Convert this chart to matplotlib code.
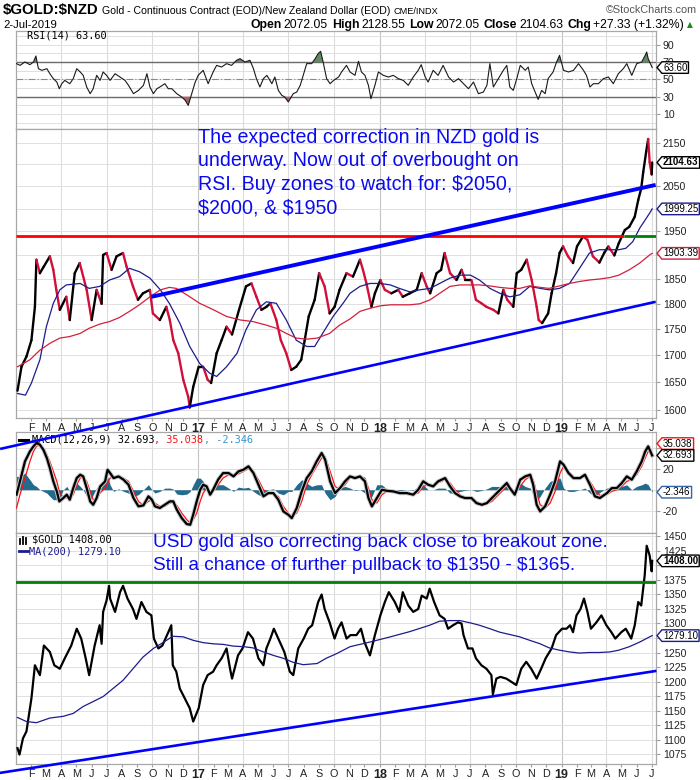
import numpy as np
import pandas as pd
import matplotlib
matplotlib.use("Agg")
import matplotlib.pyplot as plt
import matplotlib.dates as mdates
import matplotlib.patheffects as pe
import matplotlib.transforms as mtransforms
from matplotlib.collections import LineCollection
from matplotlib.lines import Line2D
from matplotlib.path import Path
from matplotlib.ticker import FixedLocator, FixedFormatter, NullLocator
from matplotlib import font_manager as fm

plt.rcParams["text.parse_math"] = False

# ----------------------------------------------------------------- data
# $GOLD:$NZD closes
nzd_dates = [
    "2016-01-04", "2016-01-12", "2016-01-22", "2016-02-01", "2016-02-08", "2016-02-11", "2016-02-18", "2016-02-26", "2016-03-09", "2016-03-16",
    "2016-03-22", "2016-03-29", "2016-04-11", "2016-04-18", "2016-04-28", "2016-05-08", "2016-05-22", "2016-06-01", "2016-06-11", "2016-06-21",
    "2016-06-24", "2016-07-01", "2016-07-11", "2016-07-21", "2016-08-03", "2016-08-10", "2016-08-23", "2016-09-02", "2016-09-12", "2016-09-26",
    "2016-10-02", "2016-10-16", "2016-10-29", "2016-11-05", "2016-11-12", "2016-11-22", "2016-12-02", "2016-12-12", "2016-12-15", "2016-12-22",
    "2017-01-02", "2017-01-11", "2017-01-20", "2017-01-27", "2017-02-07", "2017-02-17", "2017-02-27", "2017-03-10", "2017-03-24", "2017-04-07",
    "2017-04-18", "2017-04-28", "2017-05-08", "2017-05-18", "2017-05-26", "2017-06-07", "2017-06-16", "2017-06-27", "2017-07-07", "2017-07-17",
    "2017-07-27", "2017-08-03", "2017-08-11", "2017-08-23", "2017-09-01", "2017-09-12", "2017-09-22", "2017-10-02", "2017-10-12", "2017-10-26",
    "2017-11-08", "2017-11-22", "2017-11-28", "2017-12-05", "2017-12-15", "2017-12-22", "2018-01-02", "2018-01-11", "2018-01-24", "2018-02-07",
    "2018-02-16", "2018-03-02", "2018-03-16", "2018-03-26", "2018-04-05", "2018-04-12", "2018-04-25", "2018-05-04", "2018-05-11", "2018-05-22",
    "2018-06-04", "2018-06-14", "2018-06-22", "2018-07-04", "2018-07-13", "2018-07-24", "2018-08-03", "2018-08-17", "2018-08-27", "2018-09-06",
    "2018-09-14", "2018-09-26", "2018-10-03", "2018-10-12", "2018-10-23", "2018-11-02", "2018-11-12", "2018-11-16", "2018-11-23", "2018-12-05",
    "2018-12-12", "2018-12-21", "2018-12-28", "2019-01-04", "2019-01-14", "2019-01-24", "2019-02-01", "2019-02-13", "2019-02-22", "2019-03-05",
    "2019-03-18", "2019-03-28", "2019-04-05", "2019-04-17", "2019-04-26", "2019-05-08", "2019-05-17", "2019-05-28", "2019-06-04", "2019-06-10",
    "2019-06-14", "2019-06-20", "2019-06-24", "2019-06-27", "2019-07-01", "2019-07-02"]
nzd_close = [
    1635, 1679, 1698, 1729, 1794, 1890, 1862, 1876, 1897, 1869,
    1828, 1788, 1814, 1768, 1862, 1883, 1828, 1768, 1828, 1800,
    1900, 1904, 1869, 1897, 1904, 1876, 1835, 1808, 1821, 1828,
    1781, 1768, 1794, 1768, 1729, 1704, 1655, 1624, 1605, 1642,
    1679, 1679, 1655, 1649, 1704, 1729, 1755, 1740, 1788, 1835,
    1841, 1814, 1788, 1794, 1801, 1768, 1729, 1704, 1673, 1679,
    1692, 1729, 1775, 1808, 1862, 1835, 1781, 1794, 1828, 1862,
    1855, 1890, 1869, 1841, 1794, 1821, 1848, 1828, 1821, 1828,
    1814, 1821, 1828, 1862, 1835, 1821, 1862, 1869, 1904, 1862,
    1848, 1869, 1848, 1848, 1808, 1801, 1794, 1788, 1781, 1828,
    1808, 1794, 1862, 1869, 1890, 1848, 1794, 1768, 1762, 1781,
    1821, 1862, 1904, 1918, 1897, 1883, 1918, 1939, 1932, 1897,
    1884, 1905, 1918, 1899, 1925, 1953, 1960, 1982, 2019, 2045,
    2082, 2130, 2160, 2105, 2077, 2104.63]

nzd_ma50_dates = [
    "2016-01-04", "2016-01-20", "2016-02-01", "2016-02-18", "2016-03-02", "2016-03-16", "2016-03-29", "2016-04-11", "2016-05-09", "2016-05-27",
    "2016-06-17", "2016-07-07", "2016-07-27", "2016-08-16", "2016-09-05", "2016-09-26", "2016-10-17", "2016-11-04", "2016-11-25", "2016-12-15",
    "2017-01-04", "2017-01-24", "2017-02-07", "2017-02-27", "2017-03-20", "2017-04-07", "2017-04-28", "2017-05-18", "2017-06-07", "2017-06-27",
    "2017-07-17", "2017-08-07", "2017-08-23", "2017-09-08", "2017-09-29", "2017-10-19", "2017-11-02", "2017-11-22", "2017-12-12", "2018-01-02",
    "2018-01-22", "2018-02-09", "2018-03-02", "2018-03-22", "2018-04-12", "2018-05-01", "2018-05-22", "2018-06-11", "2018-07-02", "2018-07-20",
    "2018-08-10", "2018-08-30", "2018-09-19", "2018-10-09", "2018-10-29", "2018-11-19", "2018-12-07", "2018-12-28", "2019-01-17", "2019-02-06",
    "2019-02-26", "2019-03-18", "2019-04-08", "2019-04-26", "2019-05-10", "2019-05-24", "2019-06-07", "2019-06-27", "2019-07-02"]
nzd_ma50 = [
    1630, 1627, 1649, 1692, 1755, 1801, 1828, 1838, 1841, 1831,
    1835, 1848, 1855, 1872, 1865, 1852, 1828, 1801, 1762, 1717,
    1685, 1667, 1661, 1679, 1704, 1749, 1788, 1804, 1801, 1768,
    1729, 1717, 1717, 1742, 1775, 1801, 1821, 1835, 1841, 1841,
    1838, 1831, 1824, 1828, 1831, 1841, 1852, 1858, 1858, 1848,
    1831, 1821, 1814, 1818, 1835, 1831, 1828, 1831, 1841, 1872,
    1904, 1911, 1911, 1911, 1914, 1928, 1957, 1990, 1999.25]

nzd_ma200_dates = [
    "2016-01-04", "2016-01-29", "2016-02-18", "2016-03-09", "2016-03-29", "2016-04-18", "2016-05-09", "2016-05-27", "2016-06-17", "2016-07-07",
    "2016-07-27", "2016-08-16", "2016-09-05", "2016-09-26", "2016-10-17", "2016-11-04", "2016-11-18", "2016-12-09", "2017-01-04", "2017-02-01",
    "2017-02-27", "2017-03-27", "2017-04-21", "2017-05-18", "2017-06-07", "2017-06-27", "2017-07-17", "2017-08-07", "2017-08-28", "2017-09-22",
    "2017-10-12", "2017-11-02", "2017-11-22", "2017-12-12", "2018-01-02", "2018-01-22", "2018-02-09", "2018-03-02", "2018-03-22", "2018-04-12",
    "2018-05-01", "2018-05-22", "2018-06-11", "2018-07-02", "2018-07-20", "2018-08-10", "2018-08-30", "2018-09-19", "2018-10-09", "2018-10-29",
    "2018-11-19", "2018-12-07", "2018-12-28", "2019-01-17", "2019-02-06", "2019-02-26", "2019-03-18", "2019-04-08", "2019-04-26", "2019-05-17",
    "2019-06-07", "2019-06-27", "2019-07-02"]
nzd_ma200 = [
    1679, 1692, 1710, 1723, 1733, 1736, 1742, 1752, 1760, 1765,
    1773, 1785, 1798, 1814, 1828, 1833, 1831, 1818, 1801, 1788,
    1775, 1768, 1765, 1758, 1752, 1742, 1733, 1731, 1733, 1742,
    1758, 1770, 1785, 1791, 1796, 1798, 1798, 1798, 1800, 1808,
    1821, 1835, 1838, 1838, 1838, 1836, 1833, 1831, 1831, 1836,
    1833, 1831, 1836, 1841, 1845, 1848, 1850, 1853, 1858, 1869,
    1883, 1900, 1903.39]

# RSI(14) -- x as days since 2016-01-01
rsi_day = [
    1, 8, 18, 28, 35, 40, 45, 52, 62, 68,
    75, 82, 87, 92, 98, 108, 115, 122, 129, 135,
    142, 149, 155, 162, 169, 175, 182, 189, 199, 209,
    219, 226, 236, 246, 256, 263, 269, 276, 283, 289,
    299, 306, 313, 323, 333, 340, 346, 353, 360, 366,
    376, 386, 396, 403, 413, 423, 433, 443, 450, 460,
    470, 477, 483, 490, 497, 504, 514, 520, 527, 534,
    540, 547, 557, 564, 571, 577, 584, 594, 601, 607,
    612, 617, 624, 631, 638, 648, 654, 664, 671, 681,
    688, 694, 701, 708, 713, 721, 728, 738, 748, 758,
    768, 778, 788, 798, 808, 814, 822, 828, 838, 848,
    858, 869, 879, 889, 899, 909, 919, 929, 939, 946,
    952, 959, 969, 979, 986, 992, 999, 1006, 1013, 1023,
    1029, 1036, 1043, 1049, 1056, 1063, 1069, 1079, 1086, 1092,
    1100, 1110, 1120, 1130, 1140, 1146, 1153, 1160, 1170, 1180,
    1190, 1200, 1210, 1220, 1227, 1237, 1247, 1257, 1264, 1267,
    1270, 1278]
rsi_val = [
    68.1, 66.1, 70.0, 66.9, 70.0, 76.9, 62.3, 60.4, 62.3, 56.5,
    50.8, 46.9, 39.2, 45.0, 48.8, 45.0, 50.8, 62.3, 58.5, 54.6,
    41.2, 33.5, 39.2, 54.6, 48.8, 58.5, 54.6, 48.8, 56.5, 52.7,
    48.8, 43.1, 33.5, 37.3, 43.1, 56.5, 41.2, 33.5, 39.2, 41.2,
    45.0, 39.2, 39.2, 33.5, 29.6, 25.8, 20.0, 33.5, 46.9, 54.6,
    60.4, 45.0, 58.5, 66.1, 64.2, 68.1, 66.1, 71.9, 73.8, 70.0,
    71.9, 62.3, 50.8, 41.2, 50.8, 54.6, 45.0, 52.7, 37.3, 31.6,
    29.6, 23.9, 33.5, 35.4, 43.1, 54.6, 68.1, 68.1, 73.8, 79.6,
    82.3, 70.0, 50.8, 45.0, 48.8, 52.7, 58.5, 66.1, 58.5, 54.6,
    70.8, 58.5, 54.6, 43.1, 27.7, 43.1, 58.5, 54.6, 52.7, 54.6,
    50.8, 48.8, 43.1, 52.7, 60.4, 66.9, 52.7, 46.9, 60.4, 54.6,
    66.1, 52.7, 46.9, 50.8, 45.0, 39.2, 46.9, 33.5, 35.4, 43.1,
    68.1, 41.2, 50.8, 60.4, 66.1, 41.2, 37.3, 50.8, 66.1, 60.4,
    64.2, 45.0, 35.4, 26.9, 37.3, 33.5, 50.8, 58.5, 70.0, 77.7,
    60.4, 58.5, 60.4, 68.1, 60.4, 54.6, 41.2, 45.0, 45.0, 50.8,
    52.7, 45.0, 56.5, 62.3, 68.1, 54.6, 68.1, 70.0, 77.7, 81.5,
    73.8, 63.6]

# MACD(12,26,9) -- x as days since 2016-01-01
macd_day = [
    1, 8, 18, 28, 35, 41, 48, 55, 62, 68,
    75, 82, 87, 95, 102, 108, 115, 122, 129, 135,
    142, 149, 155, 162, 169, 179, 184, 189, 196, 206,
    216, 226, 236, 246, 256, 266, 273, 279, 289, 299,
    309, 316, 323, 333, 343, 350, 356, 363, 370, 376,
    383, 390, 396, 406, 416, 427, 437, 447, 457, 467,
    477, 487, 497, 507, 517, 527, 537, 547, 554, 564,
    574, 584, 594, 604, 614, 621, 631, 641, 651, 661,
    671, 681, 691, 701, 708, 715, 725, 735, 745, 758,
    771, 785, 798, 808, 818, 828, 838, 848, 862, 872,
    882, 892, 902, 915, 925, 936, 946, 956, 966, 976,
    986, 992, 1002, 1013, 1023, 1033, 1039, 1046, 1053, 1063,
    1073, 1083, 1093, 1100, 1110, 1120, 1133, 1143, 1153, 1163,
    1173, 1187, 1197, 1207, 1217, 1227, 1237, 1247, 1257, 1264,
    1270, 1278]
macd_line = [
    -4.7, 8.0, 27.0, 36.5, 41.3, 44.5, 42.9, 38.1, 30.2, 20.7,
    8.0, -1.6, -11.1, -7.9, -4.7, -9.5, 1.6, 11.1, 14.3, 12.7,
    1.6, -11.1, -14.3, -7.9, 3.0, 8.0, 19.0, 15.9, 11.1, 12.7,
    9.6, 4.8, -7.9, -15.8, -14.9, -6.3, -9.5, -15.8, -17.4, -14.3,
    -11.1, -11.1, -19.0, -27.0, -32.7, -33.3, -23.8, -11.1, 0.0, 4.8,
    3.2, -4.7, 0.0, 9.6, 15.9, 15.9, 12.7, 17.5, 19.1, 22.3,
    15.9, 4.8, -6.3, -3.2, -3.2, -9.5, -20.6, -23.8, -27.0, -17.4,
    -1.6, 11.1, 17.5, 27.0, 35.0, 28.6, 8.0, -3.2, 1.6, 8.0,
    12.7, 11.1, 12.7, 8.0, -7.9, -15.8, -7.9, 0.0, -1.0, -1.6,
    -3.2, -3.2, -4.7, 0.0, 8.0, 4.8, 3.2, 8.0, 11.1, 3.2,
    -3.2, -6.3, -7.9, -7.9, -12.7, -14.3, -12.7, -7.9, -3.2, 1.6,
    6.4, 1.6, -4.7, 9.6, 12.7, 14.3, 4.8, -14.3, -20.6, -15.8,
    -4.7, 8.0, 27.0, 23.8, 15.9, 11.1, 11.1, 14.3, 4.8, -6.3,
    -7.9, -3.2, 1.6, 1.6, 6.4, 12.7, 9.6, 17.5, 27.0, 36.5,
    41.3, 32.693]
macd_signal = [
    -17.4, -4.7, 11.1, 27.0, 36.5, 41.3, 42.9, 39.7, 33.4, 27.0,
    17.5, 8.0, -1.6, -7.9, -7.9, -7.9, -4.7, 4.8, 11.1, 12.7,
    8.0, -1.6, -9.5, -9.5, -3.0, 1.6, 6.4, 11.1, 12.7, 11.8,
    11.1, 8.0, -1.6, -11.1, -14.9, -11.1, -9.5, -12.7, -15.8, -15.8,
    -12.7, -11.7, -14.9, -22.2, -28.5, -31.7, -28.5, -22.2, -11.1, -3.2,
    1.6, -1.6, -1.6, 4.8, 11.1, 14.3, 14.3, 15.0, 17.5, 20.0,
    17.5, 9.6, 0.0, -3.2, -4.1, -6.3, -15.8, -22.2, -25.4, -22.2,
    -11.1, 4.8, 14.3, 22.3, 30.2, 31.8, 17.5, 3.2, 0.0, 4.8,
    11.1, 11.8, 12.7, 11.1, 1.6, -9.5, -12.7, -4.7, -1.6, -1.6,
    -2.2, -3.2, -4.1, -3.2, 3.2, 4.8, 3.2, 6.4, 9.6, 6.4,
    0.0, -4.7, -7.3, -7.9, -11.1, -13.6, -13.6, -11.1, -6.3, -1.6,
    3.2, 2.2, -2.2, 3.2, 9.6, 12.7, 9.6, -3.2, -14.3, -17.5,
    -12.7, -1.6, 15.9, 22.3, 17.5, 12.7, 11.1, 12.7, 8.0, 0.0,
    -5.4, -4.7, -1.6, 0.0, 3.2, 8.0, 9.6, 14.3, 22.3, 30.2,
    36.5, 35.038]

# $GOLD (USD) closes
usd_dates = [
    "2016-01-04", "2016-01-08", "2016-01-15", "2016-01-22", "2016-02-01", "2016-02-08", "2016-02-18", "2016-02-26", "2016-03-09", "2016-03-18",
    "2016-03-29", "2016-04-08", "2016-04-21", "2016-05-02", "2016-05-11", "2016-05-20", "2016-05-27", "2016-06-07", "2016-06-17", "2016-06-21",
    "2016-06-24", "2016-07-01", "2016-07-06", "2016-07-08", "2016-07-18", "2016-07-28", "2016-08-03", "2016-08-12", "2016-08-23", "2016-08-30",
    "2016-09-09", "2016-09-19", "2016-09-29", "2016-10-04", "2016-10-13", "2016-10-21", "2016-11-02", "2016-11-08", "2016-11-11", "2016-11-18",
    "2016-11-25", "2016-12-05", "2016-12-15", "2016-12-22", "2017-01-02", "2017-01-11", "2017-01-20", "2017-01-31", "2017-02-07", "2017-02-17",
    "2017-02-27", "2017-03-06", "2017-03-10", "2017-03-22", "2017-03-31", "2017-04-11", "2017-04-21", "2017-05-02", "2017-05-12", "2017-05-18",
    "2017-05-26", "2017-06-02", "2017-06-14", "2017-06-23", "2017-07-04", "2017-07-11", "2017-07-21", "2017-08-01", "2017-08-10", "2017-08-18",
    "2017-08-30", "2017-09-06", "2017-09-12", "2017-09-22", "2017-10-02", "2017-10-09", "2017-10-16", "2017-10-26", "2017-11-03", "2017-11-15",
    "2017-11-24", "2017-12-01", "2017-12-12", "2017-12-22", "2018-01-02", "2018-01-11", "2018-01-19", "2018-01-31", "2018-02-09", "2018-02-16",
    "2018-02-27", "2018-03-09", "2018-03-19", "2018-03-26", "2018-04-05", "2018-04-11", "2018-04-20", "2018-05-01", "2018-05-11", "2018-05-18",
    "2018-05-28", "2018-06-07", "2018-06-14", "2018-06-18", "2018-06-27", "2018-07-06", "2018-07-13", "2018-07-24", "2018-08-03", "2018-08-13",
    "2018-08-16", "2018-08-23", "2018-08-31", "2018-09-12", "2018-09-21", "2018-10-02", "2018-10-12", "2018-10-22", "2018-11-01", "2018-11-12",
    "2018-11-21", "2018-11-30", "2018-12-12", "2018-12-21", "2019-01-02", "2019-01-11", "2019-01-18", "2019-01-24", "2019-01-31", "2019-02-08",
    "2019-02-15", "2019-02-22", "2019-03-01", "2019-03-12", "2019-03-22", "2019-04-01", "2019-04-11", "2019-04-19", "2019-05-01", "2019-05-10",
    "2019-05-21", "2019-05-28", "2019-06-04", "2019-06-10", "2019-06-17", "2019-06-21", "2019-06-27", "2019-07-01", "2019-07-02"]
usd_close = [
    1085, 1074, 1102, 1114, 1171, 1228, 1211, 1262, 1251, 1228,
    1222, 1240, 1262, 1291, 1274, 1240, 1211, 1262, 1297, 1265,
    1320, 1340, 1365, 1343, 1320, 1354, 1365, 1343, 1325, 1308,
    1337, 1320, 1314, 1274, 1257, 1262, 1285, 1297, 1228, 1217,
    1188, 1171, 1154, 1131, 1154, 1194, 1211, 1217, 1228, 1240,
    1257, 1222, 1205, 1245, 1257, 1285, 1274, 1240, 1228, 1257,
    1274, 1291, 1268, 1251, 1217, 1211, 1257, 1274, 1291, 1297,
    1337, 1350, 1325, 1302, 1274, 1291, 1302, 1274, 1280, 1280,
    1291, 1268, 1245, 1280, 1314, 1337, 1354, 1337, 1320, 1354,
    1331, 1320, 1325, 1348, 1343, 1360, 1337, 1314, 1308, 1291,
    1297, 1302, 1300, 1280, 1257, 1257, 1240, 1228, 1222, 1211,
    1178, 1205, 1208, 1205, 1200, 1194, 1222, 1234, 1222, 1205,
    1222, 1240, 1257, 1280, 1291, 1291, 1297, 1285, 1314, 1325,
    1343, 1320, 1291, 1302, 1314, 1297, 1285, 1274, 1285, 1291,
    1274, 1297, 1337, 1331, 1383, 1434, 1417, 1390, 1408]

usd_ma200_dates = [
    "2016-01-04", "2016-01-22", "2016-02-11", "2016-03-09", "2016-04-05", "2016-04-25", "2016-05-15", "2016-06-03", "2016-06-24", "2016-07-14",
    "2016-08-03", "2016-08-23", "2016-09-12", "2016-10-03", "2016-10-24", "2016-11-11", "2016-12-02", "2016-12-22", "2017-01-11", "2017-01-31",
    "2017-02-20", "2017-03-13", "2017-04-03", "2017-04-21", "2017-05-12", "2017-06-01", "2017-06-21", "2017-07-11", "2017-07-31", "2017-08-28",
    "2017-09-15", "2017-10-06", "2017-11-02", "2017-12-12", "2018-01-22", "2018-03-02", "2018-04-11", "2018-05-01", "2018-05-21", "2018-06-11",
    "2018-07-02", "2018-07-20", "2018-08-10", "2018-08-30", "2018-09-19", "2018-10-09", "2018-10-29", "2018-11-19", "2018-12-07", "2018-12-28",
    "2019-01-17", "2019-02-06", "2019-02-26", "2019-03-18", "2019-04-08", "2019-04-26", "2019-05-17", "2019-06-07", "2019-06-27", "2019-07-02"]
usd_ma200 = [
    1138, 1131, 1129, 1137, 1140, 1145, 1157, 1165, 1174, 1188,
    1202, 1222, 1242, 1257, 1268, 1278, 1277, 1271, 1267, 1265,
    1264, 1261, 1260, 1258, 1251, 1245, 1240, 1233, 1229, 1231,
    1240, 1248, 1260, 1268, 1277, 1286, 1297, 1304, 1305, 1305,
    1301, 1297, 1291, 1285, 1281, 1277, 1271, 1265, 1258, 1254,
    1251, 1249, 1250, 1250, 1251, 1254, 1260, 1268, 1277, 1279.10]

# hand-drawn annotation lines (date, price)
nzd_upper_trend_dates = ["2016-09-29", "2019-07-09"]
nzd_upper_trend_vals = [1814, 2053]
nzd_lower_trend_dates = ["2015-11-30", "2019-07-09"]
nzd_lower_trend_vals = [1533, 1804]
nzd_red_level = 1940
nzd_red_dates = ["2016-01-01", "2019-05-06"]
nzd_green_dates = ["2019-05-06", "2019-07-09"]
usd_trend_dates = ["2015-11-30", "2019-07-08"]
usd_trend_vals = [1042.5, 1218]
usd_green_level = 1371

nzd_ticks = [1600, 1650, 1700, 1750, 1800, 1850, 1900, 1950, 2000, 2050, 2100, 2150]
nzd_tick_labels = ["1600", "1650", "1700", "1750", "1800", "1850", "", "1950", "", "2050", "", "2150"]
usd_ticks = [1075, 1100, 1125, 1150, 1175, 1200, 1225, 1250, 1275, 1300, 1325, 1350, 1375, 1400, 1425, 1450]
usd_tick_labels = ["1075", "1100", "1125", "1150", "1175", "1200", "1225", "1250", "", "1300", "1325", "1350", "1375", "", "1425", "1450"]
rsi_ticks = [10, 30, 50, 70, 90]
macd_ticks = [-20, 0, 20, 40]
macd_tick_labels = ["-20", "", "20", "40"]

# ----------------------------------------------------------------- setup
W, H = 700, 780
fig = plt.figure(figsize=(W / 100, H / 100), dpi=100)
fig.patch.set_facecolor("white")

avail = {f.name for f in fm.fontManager.ttflist}
NARROW = "Liberation Sans Narrow" if "Liberation Sans Narrow" in avail else "Liberation Sans"
SANS = "Liberation Sans"
MONO = "DejaVu Sans Mono"

BASE = pd.Timestamp("2016-01-01")


def to_x(dates):
    return mdates.date2num(pd.to_datetime(dates))


def days_to_x(days):
    return mdates.date2num(BASE + pd.to_timedelta(np.asarray(days, float), unit="D"))


X_LEFT = mdates.date2num(BASE)
X_RIGHT = mdates.date2num(BASE + pd.Timedelta(days=1285.7))

month_ticks = pd.date_range("2016-02-01", "2019-07-01", freq="MS")
month_labels = [("%02d" % (d.year % 100)) if d.month == 1 else "JFMAMJJASOND"[d.month - 1] for d in month_ticks]
quarter_lines = pd.date_range("2016-04-01", "2019-07-01", freq="QS")

L, R = 16, 656


def px_axes(top, bottom, z=1):
    ax = fig.add_axes([L / W, 1 - bottom / H, (R - L) / W, (bottom - top) / H])
    ax.set_zorder(z)
    ax.set_facecolor("white")
    return ax


def style(ax, xlabels=False):
    ax.set_xlim(X_LEFT, X_RIGHT)
    for sp in ax.spines.values():
        sp.set_color("#a8a8a8")
        sp.set_linewidth(0.9)
    for d in quarter_lines:
        ax.axvline(mdates.date2num(d), color="#c4c4c4" if d.month == 1 else "#dcdcdc", lw=0.8, zorder=0)
    ax.yaxis.tick_right()
    ax.tick_params(axis="y", which="both", length=3, color="#a0a0a0", labelsize=7.6, pad=2,
                   labelcolor="#222222")
    ax.set_xticks(mdates.date2num(month_ticks))
    ax.tick_params(axis="x", length=2, color="#a0a0a0", pad=1.5, labelsize=7.8)
    if xlabels:
        ax.set_xticklabels(month_labels)
        for lbl, d in zip(ax.get_xticklabels(), month_ticks):
            lbl.set_family(SANS)
            lbl.set_color("#222222")
            if d.month == 1:
                lbl.set_fontweight("bold")
                lbl.set_fontsize(9)
    else:
        ax.set_xticklabels([])
    ax.grid(axis="y", color="#e0e0e0", lw=0.7)
    ax.set_axisbelow(True)


def tag_box(x0, y0, width, height, mutation_size):
    p = 0.16 * mutation_size
    x0 -= p * 0.7
    x1 = x0 + width + p * 1.4
    y0 -= p * 0.5
    y1 = y0 + height + p * 1.0
    tip = (y1 - y0) * 0.42
    ym = (y0 + y1) / 2
    return Path([(x0, y0), (x1, y0), (x1, y1), (x0, y1), (x0 - tip, ym), (x0, y0)], closed=True)


def tag(ax, y, s, ec, bold=False, fc="white", z=30):
    trans = mtransforms.blended_transform_factory(ax.transAxes, ax.transData)
    ax.text(1 + 7 / (R - L), y, s, transform=trans, ha="left", va="center", fontsize=7.0,
            family=SANS, fontweight="bold" if bold else "normal", color="black",
            bbox=dict(boxstyle=tag_box, fc=fc, ec=ec, lw=1.0), zorder=z, clip_on=False)


def text_run(x, y, pieces, align="left"):
    r = fig.canvas.get_renderer()
    arts = []
    cur = x
    for s, kw, gap in pieces:
        t = fig.text(cur / W, 1 - y / H, s, ha="left", va="baseline", **kw)
        w = t.get_window_extent(renderer=r).width
        arts.append((t, cur))
        cur += w + gap
    if align == "right":
        shift = cur - x
        for t, c in arts:
            t.set_x((c - shift) / W)


def fig_line(x1, x2, y, color, lw=2.0):
    fig.add_artist(Line2D([x1 / W, x2 / W], [1 - y / H, 1 - y / H], color=color, lw=lw))


# ----------------------------------------------------------------- RSI panel
ax_r = px_axes(31, 129, z=1)
style(ax_r)
ax_r.set_ylim(-7.2, 105.7)
ax_r.set_yticks(rsi_ticks)
ax_r.set_yticklabels([str(v) for v in rsi_ticks])
ax_r.yaxis.set_minor_locator(FixedLocator([0, 20, 40, 60, 80, 100]))
ax_r.tick_params(axis="y", which="minor", length=0)
ax_r.grid(axis="y", which="minor", color="#e0e0e0", lw=0.7)
rx = days_to_x(rsi_day)
rv = np.array(rsi_val)
ax_r.fill_between(rx, rv, 70, where=rv >= 70, interpolate=True, color="#5e8e5e", lw=0, zorder=2)
ax_r.fill_between(rx, rv, 30, where=rv <= 30, interpolate=True, color="#a86464", lw=0, zorder=2)
ax_r.axhline(70, color="#6a6a6a", lw=1.0, zorder=1)
ax_r.axhline(30, color="#6a6a6a", lw=1.0, zorder=1)
ax_r.axhline(50, color="#8a8a8a", lw=0.8, ls=(0, (6, 2, 1, 2)), zorder=1)
ax_r.plot(rx, rv, color="#1a1a1a", lw=0.8, zorder=3)
tag(ax_r, rsi_val[-1], "63.60", "black")

# ----------------------------------------------------------------- main NZD panel
ax = px_axes(129, 418, z=5)
style(ax, xlabels=True)
ax.set_yscale("log")
ax.set_ylim(1586.4, 2184)
ax.yaxis.set_major_locator(FixedLocator(nzd_ticks))
ax.yaxis.set_major_formatter(FixedFormatter(nzd_tick_labels))
ax.yaxis.set_minor_locator(NullLocator())

xn = to_x(nzd_dates)
yn = np.array(nzd_close, float)
segs = np.stack([np.column_stack([xn[:-1], yn[:-1]]), np.column_stack([xn[1:], yn[1:]])], axis=1)
cols = np.where(yn[1:] >= yn[:-1], "#000000", "#d0103a")
ax.add_collection(LineCollection(segs, colors=cols, linewidths=1.7, zorder=4, capstyle="round"))
ax.plot(to_x(nzd_ma50_dates), nzd_ma50, color="#1c1c8c", lw=0.9, zorder=5)
ax.plot(to_x(nzd_ma200_dates), nzd_ma200, color="#d2203c", lw=0.9, zorder=5)

ax.plot(to_x(nzd_red_dates), [nzd_red_level] * 2, color="#ff0000", lw=2.0, zorder=6, solid_capstyle="butt")
ax.plot(to_x(nzd_green_dates), [nzd_red_level] * 2, color="#008000", lw=2.0, zorder=6, solid_capstyle="butt")
ax.plot(to_x(nzd_upper_trend_dates), nzd_upper_trend_vals, color="#0000ff", lw=2.8, zorder=7,
        clip_on=False, solid_capstyle="butt")
ax.plot(to_x(nzd_lower_trend_dates), nzd_lower_trend_vals, color="#0000ff", lw=1.9, zorder=7,
        clip_on=False, solid_capstyle="butt")
ax.set_xlim(X_LEFT, X_RIGHT)

tag(ax, nzd_ma200[-1], "1903.39", "#d2203c")
tag(ax, nzd_ma50[-1], "1999.25", "#1c1c8c")
tag(ax, nzd_close[-1], "2104.63", "black", bold=True)

# ----------------------------------------------------------------- MACD panel
ax_m = px_axes(432, 533, z=1)
style(ax_m)
ax_m.set_ylim(-41.2, 55)
ax_m.set_yticks(macd_ticks)
ax_m.set_yticklabels(macd_tick_labels)
mx = days_to_x(macd_day)
ml = np.array(macd_line)
ms = np.array(macd_signal)
ax_m.fill_between(mx, ml - ms, 0, color="#236b8c", lw=0, zorder=2)
ax_m.plot(mx, ms, color="#ff1010", lw=0.9, zorder=3)
ax_m.plot(mx, ml, color="black", lw=1.6, zorder=4,
          path_effects=[pe.Stroke(linewidth=3.0, foreground="#c8c8c8"), pe.Normal()])
tag(ax_m, 44, "35.038", "#ff1010", z=28)
tag(ax_m, macd_line[-1], "32.693", "black", z=29)
tag(ax_m, macd_line[-1] - macd_signal[-1], "-2.346", "#3366aa")

# ----------------------------------------------------------------- USD panel
ax_u = px_axes(533, 764, z=1)
style(ax_u, xlabels=True)
ax_u.set_ylim(1057.8, 1456)
ax_u.set_yticks(usd_ticks)
ax_u.set_yticklabels(usd_tick_labels)
ax_u.plot(to_x(usd_dates), usd_close, color="black", lw=1.6, zorder=4)
ax_u.plot(to_x(usd_ma200_dates), usd_ma200, color="#1c1c8c", lw=0.9, zorder=5)
ax_u.axhline(usd_green_level, color="#008000", lw=2.0, zorder=6)
ax_u.plot(to_x(usd_trend_dates), usd_trend_vals, color="#0000ff", lw=1.9, zorder=7, clip_on=False)
ax_u.set_xlim(X_LEFT, X_RIGHT)
tag(ax_u, usd_ma200[-1], "1279.10", "#1c1c8c")
tag(ax_u, usd_close[-1], "1408.00", "black", bold=True)

for a in (ax_r, ax, ax_m, ax_u):
    for t in a.get_yticklabels():
        t.set_family(SANS)

# ----------------------------------------------------------------- texts
fig.canvas.draw()

# header
text_run(3, 14, [("$GOLD:$NZD", dict(family=NARROW, fontsize=10.8, fontweight="bold"), 3),
                 ("Gold - Continuous Contract (EOD)/New Zealand Dollar (EOD)", dict(family=NARROW, fontsize=7.6), 4),
                 ("CME/INDX", dict(family=NARROW, fontsize=6.6), 0)])
fig.text(697 / W, 1 - 13 / H, "\u00a9StockCharts.com", ha="right", va="baseline", family=NARROW,
         fontsize=7.8, color="#555555")
fig.text(3 / W, 1 - 28 / H, "2-Jul-2019", ha="left", va="baseline", family=NARROW, fontsize=8.2)
B = dict(family=NARROW, fontsize=8.8, fontweight="bold")
N = dict(family=NARROW, fontsize=8.8)
text_run(684, 28, [("Open", B, 2), ("2072.05", N, 4), ("High", B, 2), ("2128.55", N, 4),
                   ("Low", B, 2), ("2072.05", N, 4), ("Close", B, 2), ("2104.63", N, 4),
                   ("Chg", B, 2), ("+27.33 (+1.32%)", N, 0)], align="right")
fig.text(690 / W, 1 - 27 / H, "\u25b2", ha="center", va="baseline", fontsize=5.5, color="#1a8a1a",
         family="DejaVu Sans")

# panel legends
LG = dict(family=MONO, fontsize=7.4)
fig.text(27 / W, 1 - 39 / H, "RSI(14) 63.60", ha="left", va="baseline", **LG)
fig.add_artist(plt.Polygon([[19 / W, 1 - 40 / H], [22 / W, 1 - 33 / H], [24 / W, 1 - 36 / H],
                            [26 / W, 1 - 40 / H]], closed=True, fc="#3e7a3e", ec="#222", lw=0.5))

fig.text(32 / W, 1 - 140 / H, "$GOLD:$NZD (Daily) 2104.63", ha="left", va="baseline", **LG)
for x0, h in [(20, 5), (23, 7), (26, 6)]:
    fig.add_artist(Line2D([x0 / W, x0 / W], [1 - 141 / H, 1 - (141 - h) / H], color="black", lw=1.3))
fig_line(19, 28, 148, "#1c1c8c", 2.0)
fig.text(29 / W, 1 - 151 / H, "MA(50) 1999.25", ha="left", va="baseline", color="#1c1c8c", **LG)
fig_line(19, 28, 158, "#d2203c", 2.0)
fig.text(29 / W, 1 - 161 / H, "MA(200) 1903.39", ha="left", va="baseline", color="#d2203c", **LG)
for x0, h in [(20, 5), (22.5, 7), (25, 6), (27.5, 4)]:
    fig.add_artist(Line2D([x0 / W, x0 / W], [1 - 171 / H, 1 - (171 - h) / H], color="#555555", lw=1.6))
fig.text(29 / W, 1 - 171 / H, "Volume undef", ha="left", va="baseline", color="#444444", **LG)

fig_line(19, 28, 440, "black", 2.2)
text_run(32, 443, [("MACD(12,26,9) 32.693", dict(LG, color="black"), 0),
                   (", 35.038", dict(LG, color="#ff1010"), 0),
                   (", -2.346", dict(LG, color="#3399cc"), 0)])

fig.text(32 / W, 1 - 543 / H, "$GOLD 1408.00", ha="left", va="baseline", **LG)
for x0, h in [(20, 5), (23, 7), (26, 6)]:
    fig.add_artist(Line2D([x0 / W, x0 / W], [1 - 544 / H, 1 - (544 - h) / H], color="black", lw=1.3))
fig_line(19, 28, 551, "#1c1c8c", 2.0)
fig.text(29 / W, 1 - 554 / H, "MA(200) 1279.10", ha="left", va="baseline", color="#1c1c8c", **LG)

# commentary
BLUE = "#0a0af0"
for i, line in enumerate(["The expected correction in NZD gold is",
                          "underway. Now out of overbought on",
                          "RSI. Buy zones to watch for: $2050,",
                          "$2000, & $1950"]):
    fig.text(198 / W, 1 - (143 + 23.5 * i) / H, line, ha="left", va="baseline", family=SANS,
             fontsize=14.1, color=BLUE, zorder=50)
for i, line in enumerate(["USD gold also correcting back close to breakout zone.",
                          "Still a chance of further pullback to $1350 - $1365."]):
    fig.text(153 / W, 1 - (547 + 22.5 * i) / H, line, ha="left", va="baseline", family=SANS,
             fontsize=13.7, color=BLUE, zorder=50)

fig.savefig("out.png", dpi=100, facecolor="white")
